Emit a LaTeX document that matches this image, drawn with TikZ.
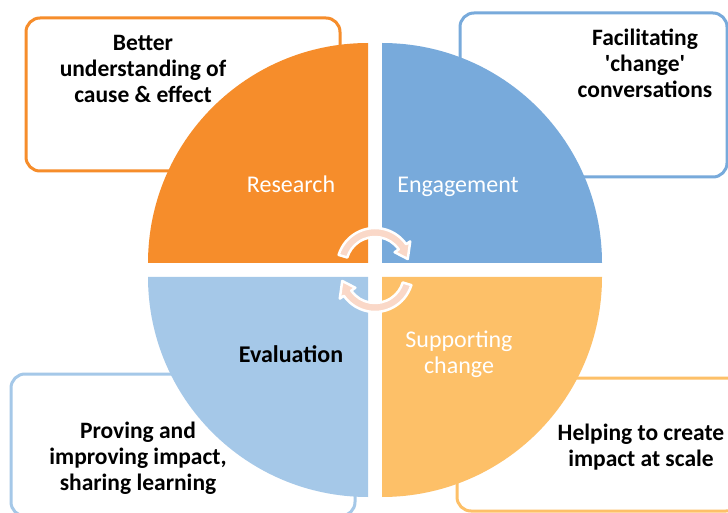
\documentclass[tikz,border=0pt]{standalone}
\usepackage{fontspec}
\setmainfont{Carlito}
\definecolor{research}{HTML}{F68D2B}
\definecolor{engage}{HTML}{78AADB}
\definecolor{evaluate}{HTML}{A5C8E8}
\definecolor{support}{HTML}{FDC068}
\definecolor{peach}{HTML}{FAD8C8}
\begin{document}
\begin{tikzpicture}[x=1pt,y=1pt,
  card/.style={line width=3pt, rounded corners=14pt},
  boxtext/.style={align=center, font=\fontsize{23.5}{26}\selectfont\bfseries},
  quadtext/.style={align=center, font=\fontsize{24}{26}\selectfont},
  turn/.style={fill=peach, draw=white, line width=2.5pt, line join=round}]
  \useasboundingbox[fill=white] (0,0) rectangle (728,512);

  % outlined cards behind the circle
  \draw[card, research] (26,494) rectangle (340,341);
  \draw[card, engage] (460,499) rectangle (727,335);
  \draw[card, evaluate] (11,138) rectangle (355,-4);
  \draw[card, support] (457,134) rectangle (740,1);

  % four quarters with a gap between them
  \fill[research] (368,249) -- ++(0,220) arc[start angle=90, end angle=180, radius=220pt] -- cycle;
  \fill[engage] (382,249) -- ++(220,0) arc[start angle=0, end angle=90, radius=220pt] -- cycle;
  \fill[evaluate] (368,235) -- ++(-220,0) arc[start angle=180, end angle=270, radius=220pt] -- cycle;
  \fill[support] (382,235) -- ++(0,-220) arc[start angle=270, end angle=360, radius=220pt] -- cycle;

  % turning arrows in the middle
  \draw[turn, shift={(375,246)}] (163:38pt) arc[start angle=163, end angle=35, radius=38pt]
    -- (35:43pt) -- (12:33.5pt) -- (35:24pt) -- (35:29pt)
    arc[start angle=35, end angle=163, radius=29pt] -- cycle;
  \draw[turn, shift={(375,238)}] (343:38pt) arc[start angle=343, end angle=215, radius=38pt]
    -- (215:43pt) -- (192:33.5pt) -- (215:24pt) -- (215:29pt)
    arc[start angle=215, end angle=343, radius=29pt] -- cycle;

  \node[quadtext, white, anchor=base] (research) at (291,319.5) {Research};
  \node[quadtext, white, anchor=base] (engagement) at (458,319.5) {Engagement};
  \node[quadtext, font=\fontsize{24}{26}\selectfont\bfseries] (evaluation) at (291,158) {Evaluation};
  \node[quadtext, white] (supporting) at (459,158) {Supporting\\change};

  \node[boxtext] (cause) at (143,443) {Better\\understanding of\\cause \& effect};
  \node[boxtext] (talk) at (645,449) {Facilitating\\\textquotesingle change\textquotesingle\\conversations};
  \node[boxtext] (proving) at (138,54) {Proving and\\improving impact,\\sharing learning};
  \node[boxtext] (scale) at (641,64.5) {Helping to create\\impact at scale};
\end{tikzpicture}
\end{document}
